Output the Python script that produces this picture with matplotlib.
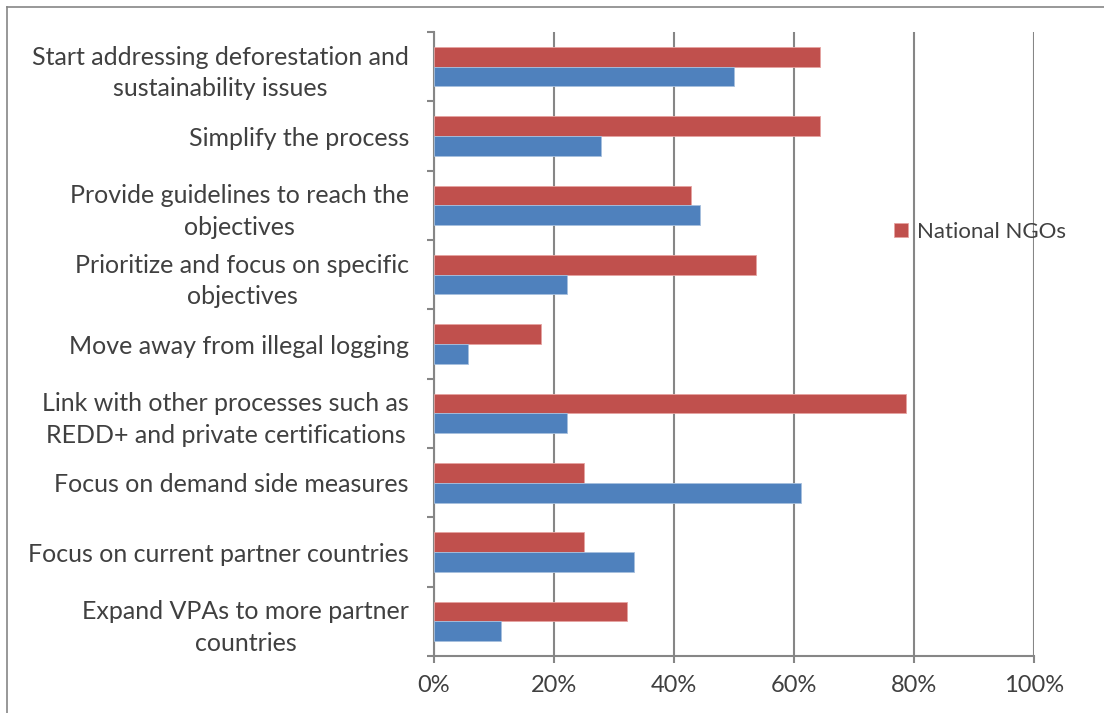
import numpy as np
import matplotlib
matplotlib.use("Agg")
from matplotlib import pyplot as plt
from matplotlib.lines import Line2D
from matplotlib.ticker import FixedLocator, PercentFormatter

categories = [
    "Start addressing deforestation and\nsustainability issues",
    "Simplify the process",
    "Provide guidelines to reach the\nobjectives",
    "Prioritize and focus on specific\nobjectives",
    "Move away from illegal logging",
    "Link with other processes such as\nREDD+ and private certifications",
    "Focus on demand side measures",
    "Focus on current partner countries",
    "Expand VPAs to more partner\ncountries",
]
national_ngos = [64.3, 64.3, 42.9, 53.6, 17.9, 78.6, 25.0, 25.0, 32.1]
other_series = [50.0, 27.8, 44.4, 22.2, 5.6, 22.2, 61.1, 33.3, 11.1]

red = "#C0504D"
blue = "#4F81BD"
grey = "#868686"
txt = "#404040"

plt.rcParams["font.family"] = ["Lato", "DejaVu Sans"]

fig = plt.figure(figsize=(11.04, 7.13), dpi=100)
ax = fig.add_axes([0.3931, 0.0799, 0.5435, 0.8752])

y = np.arange(len(categories))
h = 1 / 3.5
ax.barh(y - h / 2, national_ngos, height=h, color=red, edgecolor="#E6A3A1",
        linewidth=0.6, label="National NGOs", zorder=3)
ax.barh(y + h / 2, other_series, height=h, color=blue, edgecolor="#A7C0DE",
        linewidth=0.6, zorder=3)

ax.set_xlim(0, 100)
ax.set_ylim(len(categories) - 0.5, -0.5)
ax.set_xticks(np.arange(0, 101, 20))
ax.xaxis.set_major_formatter(PercentFormatter(decimals=0))
ax.grid(axis="x", color=grey, linewidth=1.5, zorder=0)

ax.set_yticks(y)
ax.set_yticklabels(categories, multialignment="center", linespacing=1.45)
ax.yaxis.set_minor_locator(FixedLocator(np.arange(-0.5, len(categories), 1)))
ax.tick_params(axis="y", which="major", length=0, pad=18, labelsize=18, labelcolor=txt)
ax.tick_params(axis="y", which="minor", length=5, width=1.5, color=grey)
ax.tick_params(axis="x", length=5, width=1.5, color=grey, pad=9, labelsize=17, labelcolor=txt)

for s in ["top", "right"]:
    ax.spines[s].set_visible(False)
for s in ["left", "bottom"]:
    ax.spines[s].set_color(grey)
    ax.spines[s].set_linewidth(1.5)

leg = fig.legend(loc="center left", bbox_to_anchor=(0.792, 0.675), frameon=False,
                 fontsize=16, handlelength=0.6, handleheight=0.6, handletextpad=0.4)
for t in leg.get_texts():
    t.set_color(txt)

# outer chart border
fig.add_artist(Line2D([7 / 1104, 1], [1 - 7 / 713, 1 - 7 / 713], color=grey, linewidth=1.2,
                      transform=fig.transFigure))
fig.add_artist(Line2D([7 / 1104, 7 / 1104], [0, 1 - 7 / 713], color=grey, linewidth=1.2,
                      transform=fig.transFigure))

plt.savefig("out.png", dpi=100)
